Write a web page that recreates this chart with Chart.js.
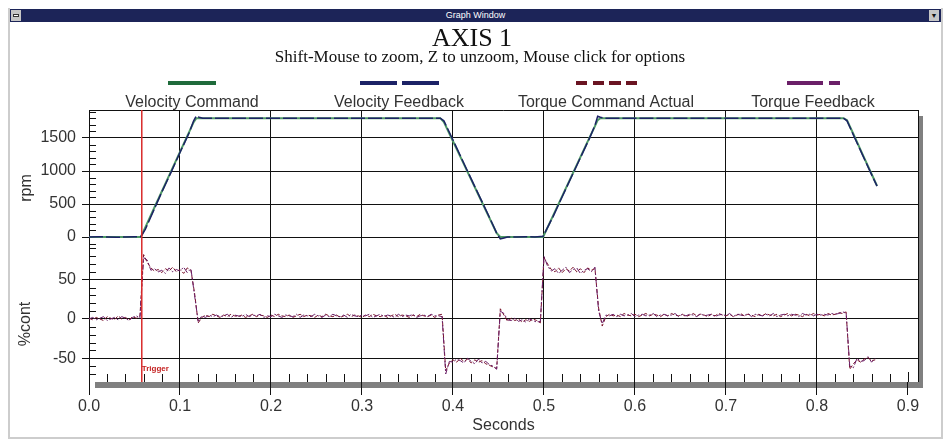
<!DOCTYPE html>
<html><head><meta charset="utf-8">
<script src="https://cdn.jsdelivr.net/npm/chart.js@4/dist/chart.umd.min.js"></script>
<style>
html,body{margin:0;padding:0;background:#fff;}
body{width:943px;height:439px;position:relative;overflow:hidden;font-family:"Liberation Sans",Arial,sans-serif;}
#frame{position:absolute;left:8px;top:8px;width:935px;height:431px;border-left:2px solid #cdcdcd;border-bottom:2px solid #cdcdcd;border-right:2px solid #cdcdcd;box-sizing:border-box;}
#bar{position:absolute;left:10px;top:9px;width:931px;height:13px;background:#1c2458;}
#btnL{position:absolute;left:11px;top:10px;width:10px;height:11px;background:#c6c6c6;}
#btnL i{position:absolute;left:2px;top:4px;width:6px;height:3px;background:#fff;border:1px solid #333;box-sizing:border-box;}
#btnR{position:absolute;left:929px;top:10px;width:10px;height:11px;background:#c6c6c6;font-size:7px;line-height:11px;text-align:center;color:#111;}
#cap{position:absolute;left:10px;width:931px;top:9px;height:13px;line-height:13px;text-align:center;color:#fff;font-size:9px;font-family:"Liberation Sans Narrow","Liberation Sans",Arial,sans-serif;}
canvas{position:absolute;left:0;top:0;}
</style>
</head>
<body>
<div id="frame"></div>
<div id="bar"></div>
<div id="btnL"><i></i></div>
<div id="btnR">&#9660;</div>
<div id="cap">Graph Window</div>
<canvas id="c" width="943" height="439"></canvas>
<script>
// ---------- DATA ----------
const seriesNames = ['Velocity Command', 'Velocity Feedback', 'Torque Command Actual', 'Torque Feedback'];

// velocity samples (seconds / rpm)
const velTime = [0, 0.01, 0.02, 0.03, 0.04, 0.05,
  0.057, 0.062, 0.07, 0.08, 0.09, 0.10, 0.11,
  0.115, 0.118, 0.121, 0.125,
  0.2, 0.3,
  0.386, 0.39, 0.40, 0.41, 0.42, 0.43, 0.44,
  0.448, 0.452, 0.456, 0.46,
  0.47, 0.48, 0.49, 0.499,
  0.51, 0.52, 0.53, 0.54, 0.55,
  0.556, 0.559, 0.562, 0.566,
  0.7, 0.8,
  0.829, 0.833, 0.84, 0.85, 0.86, 0.866];
const velocityCommand = [0, 0, 0, 0, 0, 0,
  0, 150, 390, 690, 990, 1290, 1590,
  1740, 1800, 1800, 1800,
  1800, 1800,
  1800, 1740, 1450, 1160, 870, 580, 290,
  60, 0, 0, 0,
  0, 0, 0, 0,
  325, 620, 915, 1210, 1505,
  1680, 1770, 1800, 1800,
  1800, 1800,
  1800, 1770, 1560, 1255, 955, 775];
const velocityFeedback = [0, 5, 0, -5, 0, 5,
  5, 120, 370, 680, 975, 1280, 1575,
  1760, 1835, 1815, 1800,
  1800, 1800,
  1800, 1760, 1470, 1175, 880, 590, 300,
  60, -30, -15, 0,
  0, 5, 0, 10,
  310, 610, 905, 1200, 1495,
  1690, 1830, 1815, 1800,
  1800, 1800,
  1800, 1760, 1545, 1245, 945, 770];

// torque samples (%cont), one sample every torqueStep seconds from t = 0
const torqueStep = 0.004;
const torqueCommandActual = [
  1,-1,2,0,-2,3,1,-1,4,0,2,-1,3,1,4,
  82,72,65,61,63,59,64,61,66,60,63,58,65,62,33,
  -5,2,5,3,6,4,2,5,3,6, 4,3,5,2,4,6,3,5,4,2, 5,3,6,4,3,5,2,4,6,3, 5,4,2,5,3,6,4,3,5,2, 4,6,3,5,4,2,5,3,6,4, 3,5,2,4,6,3,5,4,2,5, 3,6,4,3,5,2,5,6,
  -66,-56,-52,-55,-50,-54,-51,-56,-52,-55,-53,-57,-59,-61,-63,
  13,5,-3,1,-2,0,-4,-1,-3,0,-2,-5,
  78,70,63,60,65,59,64,61,66,60,64,59,65,62,64,14,
  -9,
  3,6,4,5,3,7,5,4,6,3, 5,7,4,6,5,3,6,4,7,5, 4,6,3,5,7,4,6,5,3,6, 4,7,5,4,6,3,5,7,4,6, 5,3,6,4,7,5,4,6,3,5, 7,4,6,5,3,6,4,7,5,6, 4,7,5,6,8,7,9,
  -64,-57,-52,-55,-51,-49,-53,-52];
const torqueFeedback = [
  0,2,-1,1,3,-2,0,2,-1,3,1,-2,2,4,1,
  78,75,62,64,60,62,58,65,60,63,61,66,59,64,30,
  -3,4,2,5,3,5,3,4,6,2, 5,4,3,6,3,5,4,6,2,4, 3,6,4,2,5,4,3,6,2,5, 4,3,6,4,2,5,3,6,4,3, 5,2,6,4,3,5,4,6,2,4, 6,3,5,4,2,6,3,5,4,6, 2,4,5,3,6,4,4,3,
  -70,-54,-55,-51,-53,-56,-50,-54,-57,-51,-56,-54,-58,-60,-64,
  10,7,-1,-2,1,-3,-1,-4,0,-2,-4,-3,
  80,67,61,64,58,62,66,59,63,65,58,62,64,60,66,10,
  -6,
  5,4,6,3,6,4,5,7,3,5, 6,4,5,7,3,5,6,4,5,7, 3,6,4,6,5,3,7,4,5,6, 3,5,6,4,7,3,6,5,4,7, 3,6,5,4,6,4,7,3,5,6, 4,6,5,3,7,5,6,4,6,5, 6,5,7,6,7,9,8,
  -60,-62,-50,-54,-53,-48,-55,-50];

const xTicks = [0, 0.1, 0.2, 0.3, 0.4, 0.5, 0.6, 0.7, 0.8, 0.9];
const rpmTicks = [0, 500, 1000, 1500];
const contTicks = [-50, 0, 50];
const triggerTime = 0.058;

// ---------- CHART ----------
const torqueTime = torqueCommandActual.map((_, i) => +(i * torqueStep).toFixed(3));
const pts = (xs, ys) => ys.map((y, i) => ({x: xs[i], y}));
const SANS = '"Liberation Sans", Arial, sans-serif';
const SERIF = '"Liberation Serif", "Times New Roman", serif';
const TXT = '#333';

const legendItems = [
  {name: seriesNames[0], color: '#1f6b3b', cx: 192, segs: [[-24, 24]]},
  {name: seriesNames[1], color: '#1c2266', cx: 399, segs: [[-39, -2], [3, 40]]},
  {name: seriesNames[2], color: '#6a1422', cx: 606, segs: [[-30, -19], [-13, -2], [3, 15], [20, 31]]},
  {name: seriesNames[3], color: '#6b1f68', cx: 813, segs: [[-26, 10], [16, 27]]}
];

const decor = {
  id: 'decor',
  beforeDraw(chart) {
    const {ctx, chartArea: a} = chart;
    ctx.save();
    ctx.fillStyle = '#808080';
    ctx.fillRect(a.right, a.top + 6, 5, a.bottom - a.top);
    ctx.fillRect(a.left + 6, a.bottom, a.right - a.left - 1, 6);
    ctx.fillStyle = '#fff';
    ctx.fillRect(a.left, a.top, a.right - a.left, a.bottom - a.top);
    ctx.restore();
  },
  afterDatasetsDraw(chart) {
    const {ctx, chartArea: a, scales} = chart;
    const xs = scales.x, yR = scales.yR, yT = scales.yT;
    ctx.save();
    ctx.strokeStyle = '#111'; ctx.lineWidth = 1;
    ctx.beginPath();
    ctx.moveTo(a.left, Math.round(a.top) + 0.5); ctx.lineTo(a.right + 0.5, Math.round(a.top) + 0.5);
    ctx.moveTo(Math.round(a.right) + 0.5, a.top); ctx.lineTo(Math.round(a.right) + 0.5, a.bottom);
    ctx.stroke();
    ctx.beginPath();
    for (let k = 1; k <= 45; k++) {
      const v = k * 0.02;
      const px = Math.round(xs.getPixelForValue(v)) + 0.5;
      if (k % 5 === 0 && k < 45) continue;
      ctx.moveTo(px, a.bottom); ctx.lineTo(px, a.bottom - (k === 45 ? 10 : 8));
    }
    for (let v = -100; v <= 1900; v += 100) {
      if (v % 500 === 0) continue;
      const py = yR.getPixelForValue(v);
      if (py < yR.top || py > yR.bottom) continue;
      ctx.moveTo(a.left, Math.round(py) + 0.5); ctx.lineTo(a.left + 7, Math.round(py) + 0.5);
    }
    for (let v = -70; v <= 90; v += 10) {
      if (v % 50 === 0) continue;
      const py = yT.getPixelForValue(v);
      if (py < yT.top || py > yT.bottom) continue;
      ctx.moveTo(a.left, Math.round(py) + 0.5); ctx.lineTo(a.left + 7, Math.round(py) + 0.5);
    }
    ctx.stroke();
    const tx = xs.getPixelForValue(triggerTime);
    ctx.strokeStyle = '#d92b2b'; ctx.lineWidth = 1.5;
    ctx.beginPath(); ctx.moveTo(tx, a.top); ctx.lineTo(tx, a.bottom); ctx.stroke();
    ctx.fillStyle = '#c41f1f';
    ctx.font = 'bold 8px ' + SANS;
    ctx.textAlign = 'left'; ctx.textBaseline = 'middle';
    ctx.fillText('Trigger', tx, a.bottom - 13);
    ctx.restore();
  },
  afterDraw(chart) {
    const {ctx} = chart;
    ctx.save();
    ctx.fillStyle = '#111';
    ctx.textAlign = 'center'; ctx.textBaseline = 'alphabetic';
    ctx.font = '26px ' + SERIF;
    ctx.fillText('AXIS 1', 472, 46);
    ctx.font = '17px ' + SERIF;
    ctx.fillText('Shift-Mouse to zoom, Z to unzoom, Mouse click for options', 480, 62);
    ctx.font = '16px ' + SANS;
    ctx.fillStyle = TXT;
    legendItems.forEach(it => {
      ctx.fillText(it.name, it.cx, 107);
      ctx.fillStyle = it.color;
      it.segs.forEach(s => ctx.fillRect(it.cx + s[0], 81, s[1] - s[0], 4));
      ctx.fillStyle = TXT;
    });
    ctx.textBaseline = 'middle';
    [['rpm', 27, 188], ['%cont', 26, 324]].forEach(([t, x, y]) => {
      ctx.save(); ctx.translate(x, y); ctx.rotate(-Math.PI / 2);
      ctx.fillText(t, 0, 0); ctx.restore();
    });
    ctx.restore();
  }
};

const yCommon = {
  type: 'linear', position: 'left', stack: 'v', stackWeight: 1,
  afterFit: s => { s.width = 89; },
  grid: {color: '#111', tickColor: '#111', tickLength: 7, lineWidth: 1},
  border: {display: true, color: '#111'},
  ticks: {padding: 6, color: TXT, font: {family: SANS, size: 16}, callback: v => String(v)}
};

new Chart(document.getElementById('c'), {
  type: 'line',
  data: {datasets: [
    {label: seriesNames[1], data: pts(velTime, velocityFeedback), yAxisID: 'yR', borderColor: '#1c2266', borderWidth: 1.5, borderDash: [14, 3], order: 1},
    {label: seriesNames[0], data: pts(velTime, velocityCommand), yAxisID: 'yR', borderColor: '#4f9a66', borderWidth: 2, order: 2},
    {label: seriesNames[3], data: pts(torqueTime, torqueFeedback), yAxisID: 'yT', borderColor: '#6b1f68', borderWidth: 1, borderDash: [6, 2, 2, 2], order: 3},
    {label: seriesNames[2], data: pts(torqueTime, torqueCommandActual), yAxisID: 'yT', borderColor: '#7a1228', borderWidth: 1, borderDash: [4, 2], order: 4}
  ]},
  options: {
    responsive: false, animation: false, devicePixelRatio: 1,
    layout: {padding: {top: 110, right: 25, left: 0, bottom: 0}},
    plugins: {legend: {display: false}, tooltip: {enabled: false}, title: {display: false}},
    elements: {point: {radius: 0}, line: {tension: 0, fill: false}},
    scales: {
      x: {
        type: 'linear', min: 0, max: 0.911,
        afterBuildTicks: s => { s.ticks = xTicks.map(v => ({value: v})); },
        afterFit: s => { s.height = 57; },
        grid: {color: c => (c.tick && c.tick.value === 0.9) ? 'rgba(0,0,0,0)' : '#111', tickColor: '#111', tickLength: 13, lineWidth: 1},
        border: {display: false},
        ticks: {padding: 2, color: TXT, font: {family: SANS, size: 16}, maxRotation: 0, autoSkip: false, callback: v => Number(v).toFixed(1)},
        title: {display: true, text: 'Seconds', color: TXT, font: {family: SANS, size: 16}, padding: {top: 0, bottom: 4}}
      },
      yR: Object.assign({}, yCommon, {
        weight: 1, min: -136, max: 1924,
        afterBuildTicks: s => { s.ticks = rpmTicks.map(v => ({value: v})); }
      }),
      yT: Object.assign({}, yCommon, {
        weight: 0, min: -80.2, max: 92.9,
        afterBuildTicks: s => { s.ticks = contTicks.map(v => ({value: v})); }
      })
    }
  },
  plugins: [decor]
});
</script>
</body></html>
